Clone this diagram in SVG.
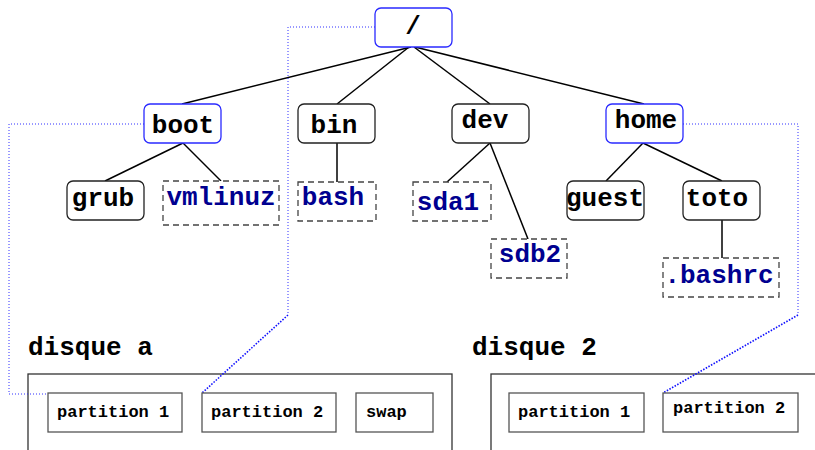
<svg xmlns="http://www.w3.org/2000/svg" width="815" height="450" viewBox="0 0 815 450">
<style>
text{font-family:"Liberation Mono","Courier New",monospace;font-weight:bold}
.n{fill:#fff;stroke:#222;stroke-width:1.3}
.b{fill:#fff;stroke:#2a2aff;stroke-width:1.3}
.f{fill:#fff;stroke:#444;stroke-width:1.3;stroke-dasharray:6,4}
.t{font-size:26px;fill:#000;text-anchor:middle}
.ft{font-size:26px;fill:#000090;text-anchor:middle}
.lbl{font-size:26px;fill:#000}
.disk{fill:#fff;stroke:#333;stroke-width:1.3}
.p{fill:#fff;stroke:#555;stroke-width:1.3}
.pt{font-size:17px;fill:#000}
.c line{stroke:#000;stroke-width:1.5}
.d{fill:none;stroke:#3030ff;stroke-width:1;stroke-dasharray:1,2}
.dd{fill:none;stroke:#1010ff;stroke-width:1.6;stroke-dasharray:1.5,1.5}
</style>
<g id="disk-a">
<rect class="disk" x="28" y="374" width="424" height="100"/>
<text class="lbl" x="28" y="355">disque a</text>
</g>
<g id="disk-2">
<rect class="disk" x="491" y="374" width="400" height="100"/>
<text class="lbl" x="472" y="355">disque 2</text>
</g>
<g class="c" id="connectors">
<line x1="411" y1="47" x2="182" y2="104"/>
<line x1="409" y1="47" x2="337" y2="104"/>
<line x1="414" y1="47" x2="490" y2="104"/>
<line x1="415" y1="47" x2="644" y2="104"/>
<line x1="183" y1="143" x2="105" y2="181"/>
<line x1="183" y1="143" x2="221" y2="181"/>
<line x1="337" y1="143" x2="337" y2="182"/>
<line x1="490" y1="143" x2="447" y2="182"/>
<line x1="490" y1="143" x2="528" y2="239"/>
<line x1="643" y1="143" x2="606" y2="181"/>
<line x1="643" y1="143" x2="722" y2="181"/>
<line x1="722" y1="220" x2="722" y2="258"/>
</g>
<g id="mounts">
<polyline class="d" points="375,27 288,27 288,315"/>
<line class="dd" x1="288" y1="315" x2="202" y2="393"/>
<polyline class="d" points="144,124 9,124 9,394 48,394"/>
<polyline class="d" points="683,124 798,124 798,315"/>
<line class="dd" x1="798" y1="315" x2="663" y2="393"/>
</g>
<g id="root"><rect class="b" x="375" y="8" width="77" height="39" rx="6"/><text class="t" x="413" y="34">/</text></g>
<g id="boot"><rect class="b" x="144" y="104" width="77" height="39" rx="6"/><text class="t" x="183" y="133">boot</text></g>
<g id="bin"><rect class="n" x="298" y="104" width="77" height="39" rx="6"/><text class="t" x="334" y="133">bin</text></g>
<g id="dev"><rect class="n" x="452" y="104" width="77" height="39" rx="6"/><text class="t" x="485" y="128">dev</text></g>
<g id="home"><rect class="b" x="606" y="104" width="77" height="39" rx="6"/><text class="t" x="646" y="128">home</text></g>
<g id="grub"><rect class="n" x="67" y="181" width="77" height="39" rx="6"/><text class="t" x="103" y="206">grub</text></g>
<g id="vmlinuz"><rect class="f" x="163" y="181" width="116" height="44"/><text class="ft" x="221" y="205">vmlinuz</text></g>
<g id="bash"><rect class="f" x="298" y="182" width="78" height="39"/><text class="ft" x="333" y="205">bash</text></g>
<g id="sda1"><rect class="f" x="413" y="182" width="78" height="39"/><text class="ft" x="448" y="210">sda1</text></g>
<g id="sdb2"><rect class="f" x="491" y="239" width="76" height="39"/><text class="ft" x="530" y="262">sdb2</text></g>
<g id="guest"><rect class="n" x="567" y="181" width="77" height="39" rx="6"/><text class="t" x="605" y="206">guest</text></g>
<g id="toto"><rect class="n" x="683" y="181" width="77" height="39" rx="6"/><text class="t" x="717" y="206">toto</text></g>
<g id="bashrc"><rect class="f" x="663" y="258" width="116" height="39"/><text class="ft" x="719" y="283">.bashrc</text></g>
<g id="a-partition1"><rect class="p" x="48" y="393" width="134" height="39"/><text class="pt" x="57" y="417">partition 1</text></g>
<g id="a-partition2"><rect class="p" x="202" y="393" width="134" height="39"/><text class="pt" x="211" y="417">partition 2</text></g>
<g id="a-swap"><rect class="p" x="356" y="393" width="77" height="39"/><text class="pt" x="366" y="417">swap</text></g>
<g id="b-partition1"><rect class="p" x="509" y="393" width="135" height="39"/><text class="pt" x="518" y="417">partition 1</text></g>
<g id="b-partition2"><rect class="p" x="663" y="393" width="135" height="39"/><text class="pt" x="673" y="413">partition 2</text></g>
</svg>
